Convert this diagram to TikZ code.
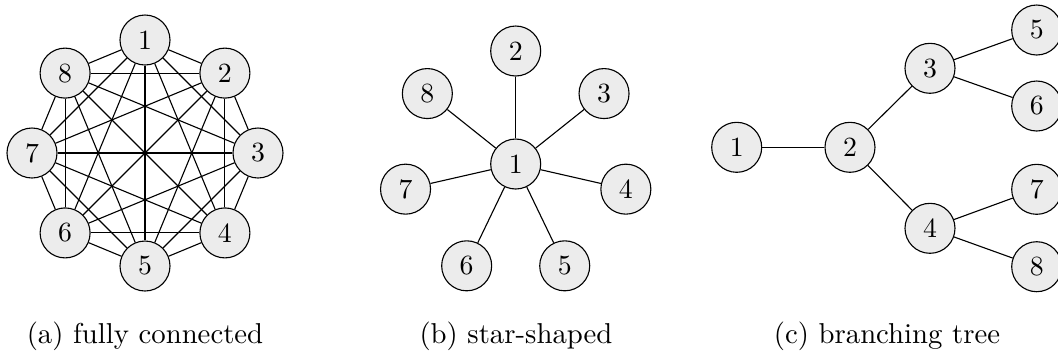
\documentclass[tikz,border=0pt]{standalone}
\begin{document}
\begin{tikzpicture}[x=0.36pt,y=-0.36pt,
  vtx/.style={circle,draw,line width=0.4pt,fill=gray!15,minimum size=18pt,inner sep=0pt},
  link/.style={draw,line width=0.4pt},
  caption/.style={anchor=base,inner sep=0pt,font=\fontsize{10.35}{12}\selectfont}]
\useasboundingbox (0,0) rectangle (1058,353);
% (a) fully connected
\foreach \k in {1,...,8}
  \node[vtx] (a\k) at ({145+113*cos(90-(\k-1)*45)},{153-113*sin(90-(\k-1)*45)}) {\k};
\foreach \i in {1,...,7}{
  \pgfmathtruncatemacro\nxt{\i+1}
  \foreach \j in {\nxt,...,8}
    \draw[link] (a\i) -- (a\j);
}
% (b) star-shaped
\node[vtx] (b1) at (515.7,164) {1};
\foreach \k in {2,...,8}{
  \node[vtx] (b\k) at ({515.7+113*cos(90-(\k-2)*360/7)},{164-113*sin(90-(\k-2)*360/7)}) {\k};
  \draw[link] (b1) -- (b\k);
}
% (c) branching tree
\node[vtx] (c1) at (736.7,147.3) {1};
\node[vtx] (c2) at (850,147.3) {2};
\node[vtx] (c3) at (930,68.3) {3};
\node[vtx] (c4) at (930,228.3) {4};
\node[vtx] (c5) at (1036.7,30) {5};
\node[vtx] (c6) at (1036.7,106) {6};
\node[vtx] (c7) at (1036.7,189.3) {7};
\node[vtx] (c8) at (1036.7,266.7) {8};
\draw[link] (c1) -- (c2);
\draw[link] (c2) -- (c3);
\draw[link] (c2) -- (c4);
\draw[link] (c3) -- (c5);
\draw[link] (c3) -- (c6);
\draw[link] (c4) -- (c7);
\draw[link] (c4) -- (c8);
% captions
\node[caption] (capa) at (145,343) {(a) fully connected};
\node[caption] (capb) at (516,343) {(b) star-shaped};
\node[caption] (capc) at (887,343) {(c) branching tree};
\end{tikzpicture}
\end{document}
